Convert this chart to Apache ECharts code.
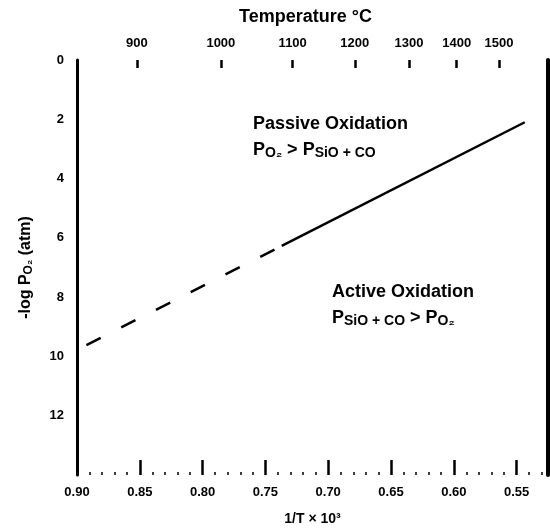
<!DOCTYPE html>
<html>
<head>
<meta charset="utf-8">
<script src="https://cdn.jsdelivr.net/npm/echarts@6/dist/echarts.min.js"></script>
<style>
  html, body { margin: 0; padding: 0; background: #fff; }
  #chart { width: 550px; height: 531px; }
</style>
</head>
<body>
<div id="chart"></div>
<script>
// 1/T x 10^3 ticks (bottom) and temperature ticks in degC (top)
var invTTicks = [0.90, 0.85, 0.80, 0.75, 0.70, 0.65, 0.60, 0.55];
var invTMinor = [0.89, 0.88, 0.87, 0.86, 0.84, 0.83, 0.82, 0.81, 0.79, 0.78, 0.77, 0.76,
                 0.74, 0.73, 0.72, 0.71, 0.69, 0.68, 0.67, 0.66, 0.64, 0.63, 0.62, 0.61,
                 0.59, 0.58, 0.57, 0.56, 0.54, 0.53];
var tempTicks = [900, 1000, 1100, 1200, 1300, 1400, 1500];
var logPTicks = [0, 2, 4, 6, 8, 10, 12];

// boundary line: dashed (extrapolated) part and solid part
var dashX = [0.8925, 0.737];
var dashY = [9.62, 6.27];
var solidX = [0.737, 0.5435];
var solidY = [6.27, 2.10];

var font = "Liberation Sans";

function zip(a, b) {
  return a.map(function (v, i) { return [v, b[i]]; });
}

// temperature (degC) -> 1000/T(K)
var tempPos = tempTicks.map(function (t) { return 1000 / (t + 273.15); });

var chart = echarts.init(document.getElementById("chart"), null, { renderer: "canvas" });

var labelStyle = { color: "#000", fontFamily: font, fontWeight: "bold", fontSize: 13 };
var gridBox = { left: 77, right: 2, top: 60, bottom: 56 };
var subStyle = { fontSize: 14, fontWeight: "bold", fontFamily: font, padding: [7, 0, 0, 0] };

// one x axis per grid (all grids overlap): main/bottom, temperature/top, minor ticks
function hiddenY(idx) {
  return { type: "value", gridIndex: idx, min: 0, max: 14, inverse: true, show: false };
}

chart.setOption({
  animation: false,
  backgroundColor: "#fff",
  grid: [Object.assign({}, gridBox), Object.assign({}, gridBox), Object.assign({}, gridBox)],
  xAxis: [
    {
      type: "value",
      gridIndex: 0,
      position: "bottom",
      min: 0.525,
      max: 0.9,
      inverse: true,
      name: "1/T \u00d7 10\u00b3",
      nameLocation: "middle",
      nameGap: 37,
      nameTextStyle: { color: "#000", fontFamily: font, fontWeight: "bold", fontSize: 14 },
      axisLine: { show: false, onZero: false },
      splitLine: { show: false },
      axisTick: {
        show: true, inside: true, length: 15,
        customValues: invTTicks,
        lineStyle: { color: "#000", width: 2.5 }
      },
      axisLabel: Object.assign({
        customValues: invTTicks,
        margin: 11,
        formatter: function (v) { return v.toFixed(2); }
      }, labelStyle)
    },
    {
      type: "value",
      gridIndex: 1,
      position: "top",
      min: 0.525,
      max: 0.9,
      inverse: true,
      name: "Temperature \u00b0C",
      nameLocation: "middle",
      nameGap: 34,
      nameTextStyle: {
        color: "#000", fontFamily: font, fontWeight: "bold", fontSize: 18,
        padding: [0, 14, 0, 0]
      },
      axisLine: { show: false, onZero: false },
      splitLine: { show: false },
      axisTick: {
        show: true, inside: true, length: 8,
        customValues: tempPos,
        lineStyle: { color: "#000", width: 2.5 }
      },
      axisLabel: Object.assign({
        customValues: tempPos,
        margin: 10,
        formatter: function (v) { return Math.round(1000 / v - 273.15); }
      }, labelStyle)
    },
    {
      type: "value",
      gridIndex: 2,
      position: "bottom",
      min: 0.525,
      max: 0.9,
      inverse: true,
      axisLine: { show: false, onZero: false },
      splitLine: { show: false },
      axisLabel: { show: false },
      axisTick: {
        show: true, inside: true, length: 3,
        customValues: invTMinor,
        lineStyle: { color: "#000", width: 1.5 }
      }
    }
  ],
  yAxis: [
    {
      type: "value",
      gridIndex: 0,
      position: "left",
      min: 0,
      max: 14,
      inverse: true,
      name: "-log P{s|O\u2082} (atm)",
      nameLocation: "middle",
      nameGap: 42,
      nameRotate: 90,
      nameTextStyle: {
        color: "#000", fontFamily: font, fontWeight: "bold", fontSize: 16,
        rich: { s: { fontFamily: font, fontWeight: "bold", fontSize: 12, padding: [6, 0, 0, 0] } }
      },
      axisLine: { show: true, onZero: false, lineStyle: { color: "#000", width: 3 } },
      axisTick: { show: false },
      splitLine: { show: false },
      axisLabel: Object.assign({ customValues: logPTicks, margin: 13 }, labelStyle)
    },
    {
      type: "value",
      gridIndex: 0,
      position: "right",
      min: 0,
      max: 14,
      inverse: true,
      axisLine: { show: true, onZero: false, lineStyle: { color: "#000", width: 4 } },
      axisTick: { show: false },
      axisLabel: { show: false },
      splitLine: { show: false }
    },
    hiddenY(1),
    hiddenY(2)
  ],
  graphic: [
    {
      type: "text", left: 253, top: 115,
      style: { text: "Passive Oxidation", fill: "#000", font: "bold 18px " + font }
    },
    {
      type: "text", left: 253, top: 141,
      style: {
        text: "P{s|O\u2082} > P{s|SiO + CO}", fill: "#000", font: "bold 18px " + font,
        rich: { s: subStyle }
      }
    },
    {
      type: "text", left: 332, top: 283,
      style: { text: "Active Oxidation", fill: "#000", font: "bold 18px " + font }
    },
    {
      type: "text", left: 332, top: 309,
      style: {
        text: "P{s|SiO + CO} > P{s|O\u2082}", fill: "#000", font: "bold 18px " + font,
        rich: { s: subStyle }
      }
    }
  ],
  series: [
    {
      type: "line",
      xAxisIndex: 0,
      yAxisIndex: 0,
      data: zip(dashX, dashY),
      symbol: "none",
      lineStyle: { color: "#000", width: 2.5, type: [16, 23] }
    },
    {
      type: "line",
      xAxisIndex: 0,
      yAxisIndex: 0,
      data: zip(solidX, solidY),
      symbol: "none",
      lineStyle: { color: "#000", width: 2.5, type: "solid" }
    }
  ]
});
</script>
</body>
</html>
